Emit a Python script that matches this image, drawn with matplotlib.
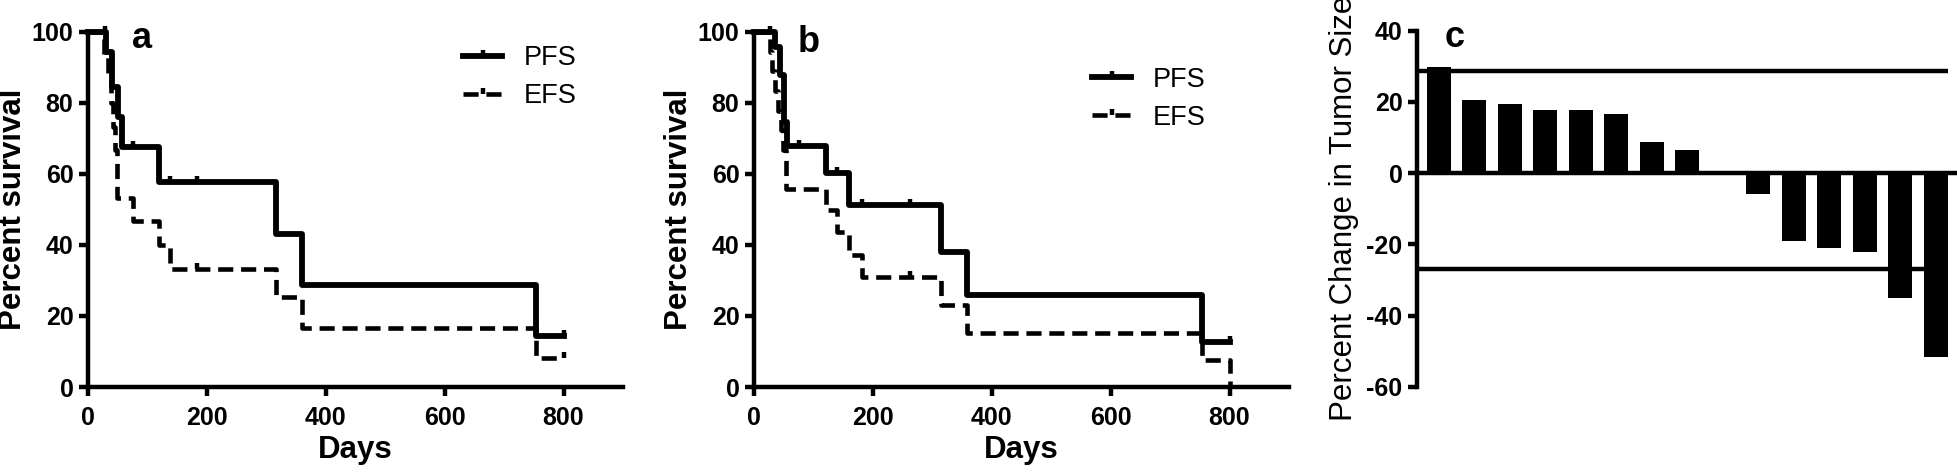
import matplotlib
matplotlib.use("Agg")
import matplotlib.pyplot as plt
from matplotlib.lines import Line2D
from matplotlib.markers import TICKUP

plt.rcParams['font.family'] = ['Liberation Sans', 'DejaVu Sans']

# ---------------- data ----------------
# Panel a
a_pfs_days = [0, 31, 41, 50, 57, 120, 316, 360, 754, 800]
a_pfs_surv = [100, 94.4, 84.5, 76.0, 67.4, 57.6, 43.2, 28.7, 14.4, 14.4]
a_pfs_cens_days = [29, 76, 138, 184, 800]
a_pfs_cens_surv = [100, 67.4, 57.6, 57.6, 14.4]
a_efs_days = [0, 27, 33, 38, 42, 45, 48, 76, 120, 138, 316, 360, 754, 800]
a_efs_surv = [100, 93.3, 86.7, 80.0, 73.3, 66.7, 53.3, 46.7, 40.0, 33.3, 25.4, 16.7, 8.3, 8.3]
a_efs_cens_days = [183, 800]
a_efs_cens_surv = [33.3, 8.3]

# Panel b
b_pfs_days = [0, 36, 43, 50, 56, 121, 160, 314, 359, 754, 800]
b_pfs_surv = [100, 95.8, 87.8, 74.7, 67.7, 60.1, 51.2, 38.0, 25.8, 12.7, 12.7]
b_pfs_cens_days = [27, 75, 139, 181, 263, 800]
b_pfs_cens_surv = [100, 67.7, 60.1, 51.2, 51.2, 12.7]
b_efs_days = [0, 27, 31, 36, 41, 45, 49, 53, 121, 139, 160, 181, 314, 359, 754, 800]
b_efs_surv = [100, 94.4, 88.9, 83.3, 77.8, 72.2, 66.7, 55.6, 49.8, 43.7, 37.1, 31.0, 23.0, 15.2, 7.5, 0]
b_efs_cens_days = [263]
b_efs_cens_surv = [31.0]

# Panel c
c_values = [29.7, 20.5, 19.4, 17.6, 17.6, 16.5, 8.7, 6.6, 0.0,
            -6.0, -19.1, -21.1, -22.1, -35.0, -51.7]
c_upper_line = 28.7
c_lower_line = -26.8

x_ticks = [0, 200, 400, 600, 800]
y_ticks = [0, 20, 40, 60, 80, 100]
c_y_ticks = [-60, -40, -20, 0, 20, 40]
legend_labels = ["PFS", "EFS"]

# ---------------- style ----------------
SPINE_W = 3.2
SOLID_W = 4.2
DASH_W = 3.3
DASH = (0, (3.3, 1.7))
TICK_FS = 18
LABEL_FS = 22.5
CENS_MS = 4.5
CENS_MEW = 3.2

fig = plt.figure(figsize=(19.58, 4.72), dpi=100)
fig.patch.set_facecolor('white')


def style_axes(ax):
    for s in ['top', 'right']:
        ax.spines[s].set_visible(False)
    for s in ['left', 'bottom']:
        ax.spines[s].set_linewidth(SPINE_W)
        ax.spines[s].set_capstyle('projecting')
    ax.tick_params(axis='both', direction='out', width=SPINE_W, length=6.5,
                   labelsize=TICK_FS, color='black')
    ax.tick_params(axis='y', pad=4)
    ax.tick_params(axis='x', pad=7)


def km_panel(ax, pd_, ps_, pcd, pcs, ed, es, ecd, ecs, letter, leg_anchor, letter_y):
    ax.step(pd_, ps_, where='post', color='black', lw=SOLID_W, clip_on=False, zorder=4)
    ax.plot(pcd, pcs, ls='none', marker=TICKUP, ms=CENS_MS, mew=CENS_MEW, color='black',
            clip_on=False, zorder=4)
    ax.step(ed, es, where='post', color='black', lw=DASH_W, ls=DASH,
            clip_on=False, zorder=3)
    ax.plot(ecd, ecs, ls='none', marker=TICKUP, ms=CENS_MS, mew=CENS_MEW, color='black',
            clip_on=False, zorder=3)
    ax.set_xlim(0, 900)
    ax.set_ylim(0, 100)
    style_axes(ax)
    ax.set_xticks(x_ticks)
    ax.set_xticklabels([str(t) for t in x_ticks], fontweight='bold')
    ax.set_yticks(y_ticks)
    ax.set_yticklabels([str(t) for t in y_ticks], fontweight='bold')
    ax.set_xlabel("Days", fontsize=LABEL_FS, fontweight='bold', labelpad=4)
    ax.set_ylabel("Percent survival", fontsize=LABEL_FS, fontweight='bold', va='center')
    ax.yaxis.set_label_coords(-0.14, 0.5)
    h1 = Line2D([], [], color='black', lw=SOLID_W, marker=TICKUP, ms=CENS_MS, mew=CENS_MEW)
    h2 = Line2D([], [], color='black', lw=DASH_W, ls=DASH, marker=TICKUP, ms=CENS_MS,
                mew=CENS_MEW)
    ax.legend([h1, h2], legend_labels, loc='center left', bbox_to_anchor=leg_anchor,
              frameon=False, fontsize=19.5, handlelength=1.45, handletextpad=0.8,
              borderpad=0, borderaxespad=0, labelspacing=0.45, numpoints=1)
    ax.text(0.082, letter_y, letter, transform=ax.transAxes, fontsize=26,
            fontweight='bold', ha='left', va='baseline')


ax_a = fig.add_axes([88 / 1958, 0.180, 535 / 1958, 0.753])
km_panel(ax_a, a_pfs_days, a_pfs_surv, a_pfs_cens_days, a_pfs_cens_surv,
         a_efs_days, a_efs_surv, a_efs_cens_days, a_efs_cens_surv,
         'a', (0.701, 0.872), 0.954)

ax_b = fig.add_axes([754 / 1958, 0.180, 535 / 1958, 0.753])
km_panel(ax_b, b_pfs_days, b_pfs_surv, b_pfs_cens_days, b_pfs_cens_surv,
         b_efs_days, b_efs_surv, b_efs_cens_days, b_efs_cens_surv,
         'b', (0.632, 0.811), 0.944)

# Panel c
ax_c = fig.add_axes([1417 / 1958, 0.1807, 538 / 1958, 0.7543])
idx = list(range(len(c_values)))
ax_c.bar(idx, c_values, width=0.67, color='black', zorder=3)
ax_c.hlines([c_upper_line, c_lower_line], -0.614, len(c_values) - 1 + 0.34,
            color='black', lw=SPINE_W, zorder=2)
ax_c.set_xlim(-0.614, 14.54)
ax_c.set_ylim(-60, 40)
style_axes(ax_c)
ax_c.spines['bottom'].set_position(('data', 0))
ax_c.set_xticks([])
ax_c.set_yticks(c_y_ticks)
ax_c.set_yticklabels([str(t) for t in c_y_ticks], fontweight='bold')
ax_c.set_ylabel("Percent Change in Tumor Size", fontsize=LABEL_FS, va='center')
ax_c.yaxis.set_label_coords(-0.136, 0.5)
ax_c.text(0.052, 0.954, 'c', transform=ax_c.transAxes, fontsize=26,
          fontweight='bold', ha='left', va='baseline')

fig.savefig("out.png", dpi=100, facecolor='white')
